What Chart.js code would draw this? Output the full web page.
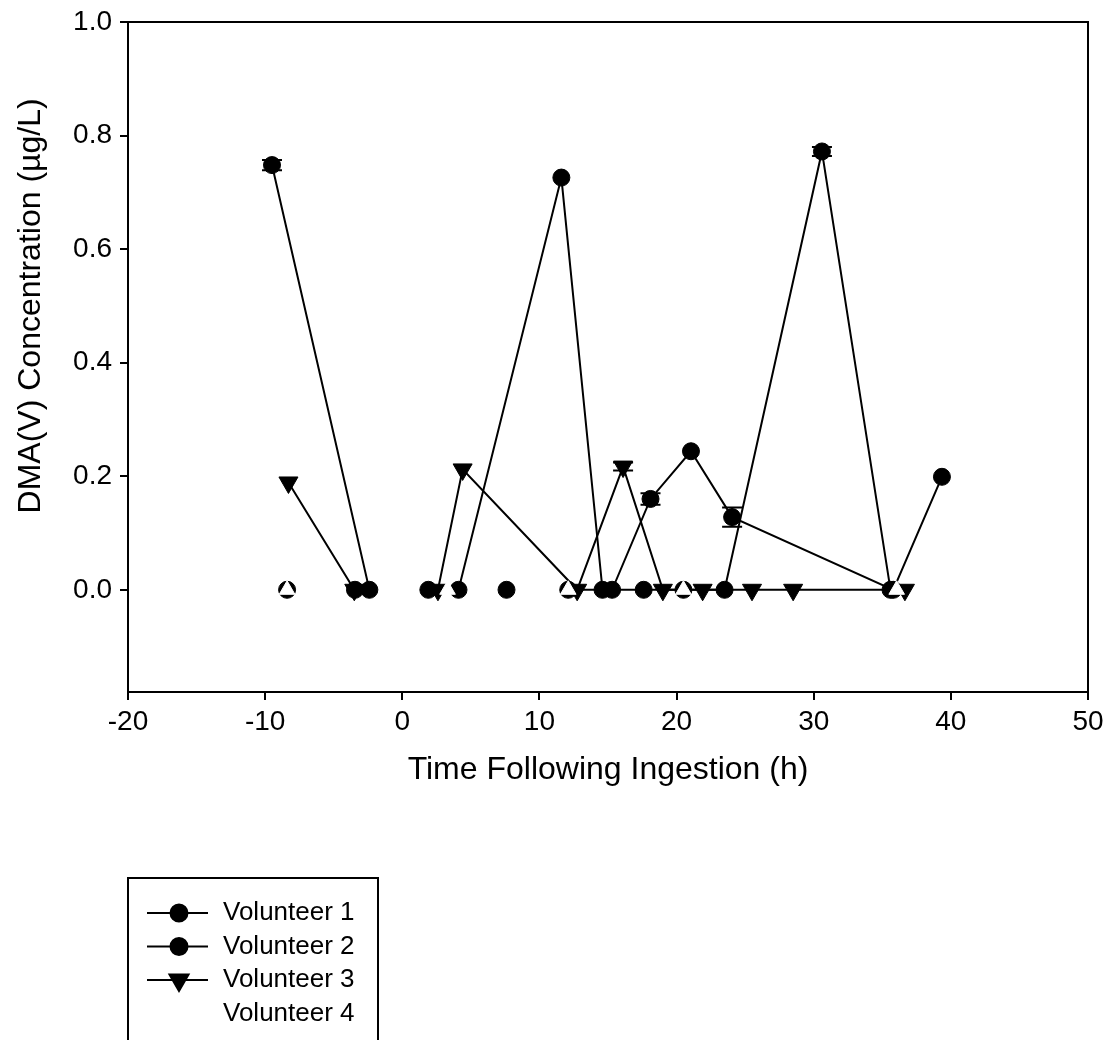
<!DOCTYPE html>
<html>
<head>
<meta charset="utf-8">
<script src="https://cdn.jsdelivr.net/npm/chart.js@4.4.1/dist/chart.umd.min.js"></script>
<style>
    body { margin: 0; background: #fff; }
    canvas { display: block; }
</style>
</head>
<body>
<canvas id="dma" width="1110" height="1040"></canvas>
<script>
// Values (time in h, DMA(V) in ug/L)
const seriesLabels = ["Volunteer 1", "Volunteer 2", "Volunteer 3", "Volunteer 4"];

const v1Time = [-9.5, -2.4, 4.1, 11.6, 14.6, 17.6, 20.5, 23.5, 30.6, 35.6];
const v1Conc = [0.748, 0, 0, 0.726, 0, 0, 0, 0, 0.772, 0];
const v1Err = [0.009, 0, 0, 0, 0, 0, 0, 0, 0.008, 0];

const v2Time = [-8.4, -3.45, 1.9, 7.6, 12.1, 15.3, 18.1, 21.05, 24.05, 35.8, 39.35];
const v2Conc = [0, 0, 0, 0, 0, 0, 0.16, 0.244, 0.128, 0, 0.199];
const v2Err = [0, 0, 0, 0, 0, 0, 0.01, 0, 0.017, 0, 0];

const v3Time = [-8.3, -3.5, 2.6, 4.4, 12.75, 16.1, 19.0, 21.9, 25.5, 28.5, 36.65];
const v3Conc = [0.189, 0, 0, 0.212, 0, 0.217, 0, 0, 0, 0, 0];
const v3Err = [0, 0, 0, 0, 0, 0.007, 0, 0, 0, 0, 0];

// volunteer 4 is drawn in white in the original
const v4Time = [-8.4, 3.3, 12.1, 20.5, 36.05];
const v4Conc = [0, 0, 0, 0, 0];

const xTickValues = [-20, -10, 0, 10, 20, 30, 40, 50];
const yTickValues = [0, 0.2, 0.4, 0.6, 0.8, 1.0];
const yTitle = "DMA(V) Concentration (µg/L)";

const FONT = "'Liberation Sans', Arial, sans-serif";
Chart.defaults.font.family = FONT;
Chart.defaults.color = "#000";

function toPoints(xs, ys) {
    return xs.map((x, i) => ({ x: x, y: ys[i] }));
}

const series = [
    { label: seriesLabels[0], data: toPoints(v1Time, v1Conc), errors: v1Err, color: "#000", style: "circle", radius: 8.5, rot: 0, layer: 1 },
    { label: seriesLabels[1], data: toPoints(v2Time, v2Conc), errors: v2Err, color: "#000", style: "circle", radius: 8.5, rot: 0, layer: 1 },
    { label: seriesLabels[2], data: toPoints(v3Time, v3Conc), errors: v3Err, color: "#000", style: "triangle", radius: 11, rot: 180, layer: 2 },
    { label: seriesLabels[3], data: toPoints(v4Time, v4Conc), errors: null, color: "#ffffff", style: "triangle", radius: 9, rot: 0, layer: 0 }
];

// like the original: every line first, then all the symbols on top
const lineSets = series.map((s) => ({
    label: s.label,
    data: s.data,
    borderColor: s.color,
    borderWidth: s.color === "#ffffff" ? 5 : 2,
    pointRadius: 0,
    tension: 0,
    order: 10 + s.layer,
    // the later part of volunteer 4's white trace can't be read off the picture
    segment: s.color === "#ffffff"
        ? { borderColor: (c) => (c.p0DataIndex < 2 ? "#ffffff" : "rgba(255,255,255,0)") }
        : undefined
}));

const pointSets = series.map((s) => ({
    label: s.label + " symbols",
    data: s.data,
    errors: s.errors,
    showLine: false,
    borderColor: s.color,
    backgroundColor: s.color,
    borderWidth: 1,
    pointStyle: s.style,
    pointRadius: s.radius,
    pointRotation: s.rot,
    order: s.layer
}));

// error bars with caps
const errorBars = {
    id: "errorBars",
    afterDatasetsDraw(chart) {
        const ctx = chart.ctx;
        const xs = chart.scales.x, ys = chart.scales.y;
        ctx.save();
        ctx.strokeStyle = "#000";
        ctx.lineWidth = 2;
        chart.data.datasets.forEach((ds) => {
            if (!ds.errors) return;
            ds.data.forEach((p, i) => {
                const e = ds.errors[i];
                if (!e) return;
                const px = xs.getPixelForValue(p.x);
                const top = ys.getPixelForValue(p.y + e);
                const bot = ys.getPixelForValue(p.y - e);
                ctx.beginPath();
                ctx.moveTo(px, top); ctx.lineTo(px, bot);
                ctx.moveTo(px - 10, top); ctx.lineTo(px + 10, top);
                ctx.moveTo(px - 10, bot); ctx.lineTo(px + 10, bot);
                ctx.stroke();
            });
        });
        ctx.restore();
    }
};

// box round the plot, y title (centred on 0..1 like the original) and the boxed legend
const frameAndLegend = {
    id: "frameAndLegend",
    afterDraw(chart) {
        const ctx = chart.ctx;
        const a = chart.chartArea;
        const ys = chart.scales.y;
        ctx.save();
        ctx.strokeStyle = "#000";
        ctx.lineWidth = 2;
        ctx.strokeRect(a.left, a.top, a.right - a.left, a.bottom - a.top);

        ctx.save();
        ctx.translate(31, (ys.getPixelForValue(0) + ys.getPixelForValue(1)) / 2);
        ctx.rotate(-Math.PI / 2);
        ctx.font = "32px " + FONT;
        ctx.textAlign = "center";
        ctx.textBaseline = "middle";
        ctx.fillStyle = "#000";
        ctx.fillText(yTitle, 0, 0);
        ctx.restore();

        ctx.strokeRect(128, 878, 250, 200);
        ctx.font = "26px " + FONT;
        ctx.textBaseline = "middle";
        ctx.textAlign = "left";
        series.forEach((s, i) => {
            const y = 913 + i * 33.5;
            if (s.color !== "#ffffff") {
                ctx.beginPath();
                ctx.moveTo(147, y); ctx.lineTo(208, y);
                ctx.stroke();
                ctx.fillStyle = "#000";
                Chart.helpers.drawPoint(ctx, {
                    pointStyle: s.style,
                    radius: s.radius,
                    rotation: s.rot,
                    borderWidth: 1
                }, 179, y);
                ctx.fill();
            }
            ctx.fillStyle = "#000";
            ctx.fillText(s.label, 223, y);
        });
        ctx.restore();
    }
};

new Chart(document.getElementById("dma"), {
    type: "line",
    data: { datasets: lineSets.concat(pointSets) },
    options: {
        responsive: false,
        animation: false,
        layout: { padding: { left: 0, top: 22, right: 22, bottom: 248 } },
        plugins: {
            legend: { display: false },
            tooltip: { enabled: false }
        },
        scales: {
            x: {
                type: "linear",
                min: -20,
                max: 50,
                afterBuildTicks: (s) => { s.ticks = xTickValues.map((v) => ({ value: v })); },
                afterFit: (s) => { s.height = 100; },
                grid: { drawOnChartArea: false, color: "#000", lineWidth: 2, tickLength: 8 },
                border: { color: "#000", width: 2 },
                ticks: { color: "#000", font: { size: 28 }, padding: 5, maxRotation: 0 },
                title: {
                    display: true,
                    text: "Time Following Ingestion (h)",
                    color: "#000",
                    font: { size: 32 },
                    padding: { top: 0, bottom: 3 }
                }
            },
            y: {
                type: "linear",
                min: -0.18,
                max: 1.0,
                afterBuildTicks: (s) => { s.ticks = yTickValues.map((v) => ({ value: v })); },
                afterFit: (s) => {
                    s.width = 128;
                    s.paddingTop = 0;
                    s.paddingBottom = 0;
                },
                grid: { drawOnChartArea: false, color: "#000", lineWidth: 2, tickLength: 8 },
                border: { color: "#000", width: 2 },
                ticks: {
                    color: "#000",
                    font: { size: 28 },
                    padding: 8,
                    callback: (v) => Number(v).toFixed(1)
                }
            }
        }
    },
    plugins: [errorBars, frameAndLegend]
});
</script>
</body>
</html>
